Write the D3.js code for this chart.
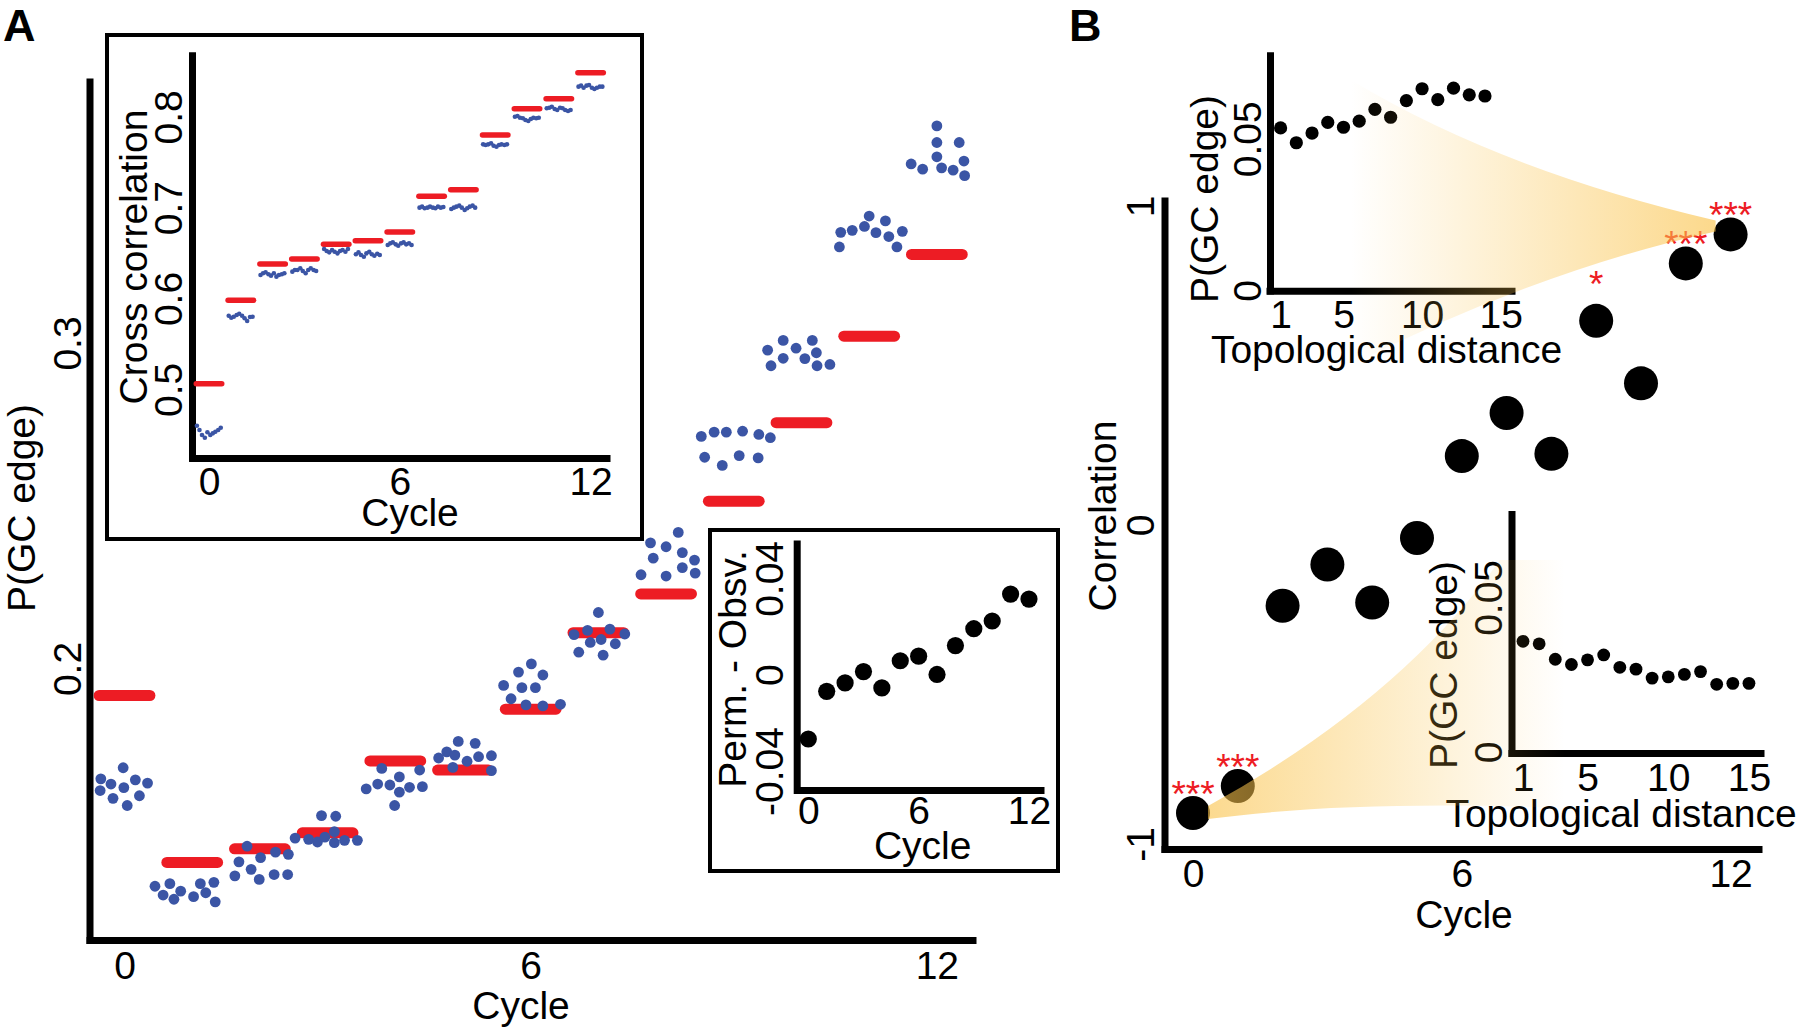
<!DOCTYPE html>
<html><head><meta charset="utf-8">
<script src="https://cdn.jsdelivr.net/npm/d3@7"></script>
<style>
html,body{margin:0;padding:0;background:#fff;}
</style></head><body>
<svg id="fig" width="1800" height="1030" xmlns="http://www.w3.org/2000/svg"></svg>
<script>
// ---------------- DATA ----------------
const cycles = [0,1,2,3,4,5,6,7,8,9,10,11,12];
const cycleTicks = [0,6,12];

// Panel A main: observed P(GC edge) (red) and permutations (blue)
const obsGC = [0.1917,0.1404,0.1446,0.1495,0.1716,0.1688,0.1875,0.2110,0.2229,0.2514,0.2755,0.3021,0.3272];
const permGC = [
  [0.1695,0.1661,0.1645,0.1658,0.1648,0.1625,0.1634,0.1609,0.1601,0.1579],
  [0.1331,0.1339,0.1304,0.1316,0.1291,0.1299,0.1339,0.1343,0.1311,0.1283],
  [0.1454,0.1406,0.1419,0.1436,0.1429,0.1383,0.1363,0.1352,0.1367,0.1367],
  [0.1548,0.1546,0.1479,0.1475,0.1467,0.1482,0.1499,0.1465,0.1472,0.1472],
  [0.1693,0.1688,0.1667,0.1630,0.1645,0.1642,0.1620,0.1635,0.1637,0.1579],
  [0.1776,0.1770,0.1744,0.1734,0.1725,0.1715,0.1729,0.1732,0.1696,0.1686],
  [0.2014,0.1989,0.1980,0.1948,0.1941,0.1941,0.1907,0.1888,0.1885,0.1890],
  [0.2172,0.2117,0.2121,0.2104,0.2106,0.2089,0.2080,0.2076,0.2050,0.2041],
  [0.2418,0.2386,0.2374,0.2356,0.2339,0.2333,0.2310,0.2293,0.2288,0.2284],
  [0.2713,0.2726,0.2726,0.2729,0.2719,0.2709,0.2649,0.2624,0.2654,0.2647],
  [0.3008,0.3008,0.2978,0.2984,0.2970,0.2953,0.2952,0.2930,0.2930,0.2934],
  [0.3390,0.3375,0.3340,0.3346,0.3358,0.3339,0.3343,0.3327,0.3295,0.3295],
  [0.3667,0.3616,0.3616,0.3550,0.3534,0.3572,0.3538,0.3531,0.3559,0.3514]
];
// horizontal jitter of each permutation dot (in cycles)
const permJitter = [
  [-0.02,-0.35,-0.20,0.16,0.34,-0.36,-0.01,0.22,-0.17,0.04],
  [-0.55,-0.33,-0.43,-0.17,-0.27,0.02,0.12,0.32,0.20,0.34],
  [-0.19,-0.31,0.01,0.23,0.42,-0.13,-0.37,-0.01,0.21,0.41],
  [-0.09,0.12,-0.48,-0.28,-0.15,-0.04,0.10,0.10,0.25,0.44],
  [-0.20,0.36,0.06,-0.43,-0.26,-0.08,0.06,0.21,0.40,-0.01],
  [-0.07,0.18,-0.24,-0.12,-0.36,0.06,0.23,0.42,-0.15,0.42],
  [0.01,-0.18,0.18,-0.40,-0.13,0.07,-0.29,-0.07,0.18,0.44],
  [0.00,-0.16,0.17,-0.36,0.39,0.04,-0.12,0.25,-0.29,0.07],
  [0.18,-0.23,0.00,0.24,-0.19,0.42,0.24,0.43,-0.37,0.00],
  [-0.48,-0.29,-0.11,0.13,0.37,0.54,-0.43,-0.17,0.08,0.36],
  [-0.27,0.16,-0.50,-0.08,0.22,-0.27,0.05,-0.45,0.23,0.42],
  [0.00,0.24,-0.42,-0.25,-0.07,0.10,0.49,0.29,-0.44,0.41],
  [0.00,0.00,0.33,-0.38,-0.21,0.00,0.07,0.24,0.40,0.41]
];
const gcTicks = [0.2,0.3];

// Inset: cross correlation
const obsXcorr = [0.5062,0.5980,0.6380,0.6435,0.6596,0.6636,0.6732,0.7125,0.7197,0.7800,0.8089,0.8199,0.8486];
const permXcorr = [
  [0.4599,0.4552,0.4497,0.4467,0.4527,0.4497,0.4515,0.4533,0.4552,0.4577],
  [0.5810,0.5788,0.5799,0.5818,0.5832,0.5810,0.5782,0.5752,0.5796,0.5799],
  [0.6258,0.6277,0.6288,0.6266,0.6251,0.6277,0.6240,0.6258,0.6266,0.6277],
  [0.6295,0.6313,0.6313,0.6332,0.6302,0.6277,0.6313,0.6332,0.6313,0.6302],
  [0.6545,0.6523,0.6508,0.6534,0.6515,0.6497,0.6523,0.6534,0.6515,0.6545],
  [0.6486,0.6508,0.6479,0.6460,0.6497,0.6515,0.6486,0.6471,0.6493,0.6479],
  [0.6589,0.6607,0.6618,0.6596,0.6581,0.6607,0.6618,0.6596,0.6607,0.6589],
  [0.7000,0.7011,0.6993,0.7000,0.7011,0.7000,0.6993,0.7011,0.7000,0.7007],
  [0.6985,0.7000,0.7011,0.7022,0.7000,0.6974,0.6993,0.7011,0.7022,0.7000],
  [0.7697,0.7690,0.7697,0.7708,0.7682,0.7671,0.7690,0.7697,0.7690,0.7697],
  [0.8001,0.8009,0.7990,0.7984,0.7965,0.7954,0.7976,0.7990,0.7984,0.7990],
  [0.8094,0.8100,0.8111,0.8086,0.8075,0.8100,0.8094,0.8075,0.8064,0.8075],
  [0.8332,0.8343,0.8320,0.8343,0.8350,0.8320,0.8306,0.8320,0.8332,0.8332]
];
const xcorrJitter = [-0.38,-0.30,-0.22,-0.13,-0.05,0.04,0.12,0.20,0.29,0.37];
const xcorrTicks = [0.5,0.6,0.7,0.8];

// Inset: Perm. - Obsv.
const permMinusObs = [-0.0267,-0.0069,-0.0034,0.0013,-0.0055,0.0058,0.0077,0.0001,0.0121,0.0191,0.0223,0.0335,0.0314];
const diffTicks = [-0.04,0,0.04];

// Panel B main: correlation per cycle
const corrGC = [-0.903,-0.818,-0.253,-0.124,-0.243,-0.041,0.216,0.351,0.223,0.640,0.444,0.820,0.911];
const corrTicks = [-1,0,1];
const starCycles = [0,1,9,11,12];
const starLabels = ["***","***","*","***","***"];

// Panel B insets: P(GC edge) vs topological distance
const topDist = [1,2,3,4,5,6,7,8,9,10,11,12,13,14];
const topPGC = [0.0536,0.0487,0.0519,0.0554,0.0538,0.0558,0.0597,0.0571,0.0626,0.0665,0.0629,0.0667,0.0645,0.0641];
const botDist = [1,2,3,4,5,6,7,8,9,10,11,12,13,14,15];
const botPGC = [0.0358,0.0350,0.0300,0.0283,0.0298,0.0314,0.0274,0.0268,0.0239,0.0243,0.0251,0.0260,0.0219,0.0222,0.0222];
const distTicks = [1,5,10,15];
const pgcTicks = [0,0.05];

// ---------------- DRAWING ----------------
const svg = d3.select("#fig");
const FONT = '"Liberation Sans", Arial, Helvetica, sans-serif';
const FS = 39;
const RED = "#ED1C24", BLUE = "#3B55A5", WEDGE = "#FAC34B";

function txt(s, x, y, o = {}) {
  const t = svg.append("text").text(s)
    .attr("font-family", FONT).attr("font-size", o.size || FS)
    .attr("text-anchor", o.anchor || "middle").attr("fill", o.fill || "#000");
  if (o.weight) t.attr("font-weight", o.weight);
  if (o.rot) t.attr("transform", `translate(${x},${y}) rotate(-90)`);
  else t.attr("x", x).attr("y", y);
  return t;
}
function bottomAxis(scale, ticks, y, off) {
  const ax = d3.axisBottom(scale).tickValues(ticks).tickSize(0).tickSizeOuter(0).tickFormat(d => String(d));
  const g = svg.append("g").attr("transform", `translate(0,${y})`).call(ax);
  g.attr("font-family", null).attr("font-size", null);
  g.select(".domain").attr("stroke", "#000").attr("stroke-width", 7);
  g.selectAll(".tick text").attr("y", off).attr("dy", 0)
    .attr("font-family", FONT).attr("font-size", FS).attr("fill", "#000");
  return g;
}
function leftAxis(scale, ticks, x, off) {
  const ax = d3.axisLeft(scale).tickValues(ticks).tickSize(0).tickSizeOuter(0).tickFormat(d => String(d));
  const g = svg.append("g").attr("transform", `translate(${x},0)`).call(ax);
  g.attr("font-family", null).attr("font-size", null).attr("text-anchor", null);
  g.select(".domain").attr("stroke", "#000").attr("stroke-width", 7);
  g.selectAll(".tick text").attr("x", 0).attr("dy", 0).attr("text-anchor", "middle")
    .attr("transform", `translate(${off},0) rotate(-90)`)
    .attr("font-family", FONT).attr("font-size", FS).attr("fill", "#000");
  return g;
}

// ===== Panel A main =====
const xA = d3.scaleLinear().domain([-0.569, 12.578]).range([86, 976]);
const yA = d3.scaleLinear().domain([0.11551, 0.38141]).range([943.5, 78]);
bottomAxis(xA, cycleTicks, 940, 39);
leftAxis(yA, gcTicks, 89.5, -9);
txt("P(GC edge)", 35, 508, {rot: true});
txt("Cycle", 521, 1019);
txt("A", 3, 41, {anchor: "start", weight: "bold", size: 45});

svg.append("g").selectAll("line").data(cycles).join("line")
  .attr("x1", c => xA(c - 0.375)).attr("x2", c => xA(c + 0.375))
  .attr("y1", c => yA(obsGC[c])).attr("y2", c => yA(obsGC[c]))
  .attr("stroke", RED).attr("stroke-width", 11).attr("stroke-linecap", "round");
const permPts = cycles.flatMap(c => permGC[c].map((v, i) => ({c, v, j: permJitter[c][i]})));
svg.append("g").selectAll("circle").data(permPts).join("circle")
  .attr("cx", d => xA(d.c + d.j)).attr("cy", d => yA(d.v)).attr("r", 5.4).attr("fill", BLUE);

// ===== Inset A1: cross correlation =====
svg.append("rect").attr("x", 107).attr("y", 35).attr("width", 535).attr("height", 504)
  .attr("fill", "#fff").attr("stroke", "#000").attr("stroke-width", 4);
const xI = d3.scaleLinear().domain([-0.6415, 12.61]).range([188.6, 610]);
const yI = d3.scaleLinear().domain([0.42106, 0.87157]).range([461, 51.8]);
bottomAxis(xI, cycleTicks, 458, 36.5);
leftAxis(yI, xcorrTicks, 192, -10);
txt("Cross correlation", 147, 257, {rot: true});
txt("Cycle", 410, 526);
svg.append("g").selectAll("line").data(cycles).join("line")
  .attr("x1", c => xI(c - 0.4)).attr("x2", c => xI(c + 0.4))
  .attr("y1", c => yI(obsXcorr[c])).attr("y2", c => yI(obsXcorr[c]))
  .attr("stroke", RED).attr("stroke-width", 5.5).attr("stroke-linecap", "round");
const xcPts = cycles.flatMap(c => permXcorr[c].map((v, i) => ({c, v, j: xcorrJitter[i]})));
svg.append("g").selectAll("circle").data(xcPts).join("circle")
  .attr("cx", d => xI(d.c + d.j)).attr("cy", d => yI(d.v)).attr("r", 2.3).attr("fill", BLUE);

// ===== Inset A2: Perm. - Obsv. =====
svg.append("rect").attr("x", 710).attr("y", 530).attr("width", 348).attr("height", 341)
  .attr("fill", "#fff").attr("stroke", "#000").attr("stroke-width", 4);
const xP = d3.scaleLinear().domain([-0.778, 12.817]).range([794, 1044]);
const yP = d3.scaleLinear().domain([-0.049346, 0.05595]).range([793.5, 540]);
bottomAxis(xP, cycleTicks, 790, 34.3);
leftAxis(yP, diffTicks, 796.7, -13.7);
txt("Perm. - Obsv.", 746, 669, {rot: true});
txt("Cycle", 922.7, 859);
svg.append("g").selectAll("circle").data(cycles).join("circle")
  .attr("cx", c => xP(c)).attr("cy", c => yP(permMinusObs[c])).attr("r", 8.6).attr("fill", "#000");

// ===== Panel B main =====
const xB = d3.scaleLinear().domain([-0.714, 12.701]).range([1161, 1762]);
const yB = d3.scaleLinear().domain([-1.02665, 1.02821]).range([852.5, 197]);
bottomAxis(xB, cycleTicks, 849, 38);
leftAxis(yB, corrTicks, 1164.5, -11);
txt("Correlation", 1116, 516, {rot: true});
txt("Cycle", 1464, 928);
txt("B", 1069, 41, {anchor: "start", weight: "bold", size: 45});

// ===== Panel B top inset =====
const xT = d3.scaleLinear().domain([0.0712, 15.911]).range([1266, 1515]);
const yT = d3.scaleLinear().domain([-0.001154, 0.078708]).range([294, 51.7]);
bottomAxis(xT, distTicks, 290.7, 37.6);
leftAxis(yT, pgcTicks, 1270, -9);
txt("P(GC edge)", 1218, 199, {rot: true});
txt("Topological distance", 1386.5, 363);
svg.append("g").selectAll("circle").data(topDist).join("circle")
  .attr("cx", (d) => xT(d)).attr("cy", (d, i) => yT(topPGC[i])).attr("r", 6.6).attr("fill", "#000");

// ===== Panel B bottom inset =====
const xL = d3.scaleLinear().domain([0.0706, 15.932]).range([1508, 1764]);
const yL = d3.scaleLinear().domain([-0.001455, 0.078137]).range([756.5, 510.4]);
bottomAxis(xL, distTicks, 753, 37.7);
leftAxis(yL, pgcTicks, 1511.5, -9.5);
txt("P(GC edge)", 1457, 665, {rot: true});
txt("Topological distance", 1621, 827);
svg.append("g").selectAll("circle").data(botDist).join("circle")
  .attr("cx", (d) => xL(d)).attr("cy", (d, i) => yL(botPGC[i])).attr("r", 6.4).attr("fill", "#000");

// main B dots and stars
svg.append("g").selectAll("circle").data(cycles).join("circle")
  .attr("cx", c => xB(c)).attr("cy", c => yB(corrGC[c])).attr("r", 17).attr("fill", "#000");
svg.append("g").selectAll("text").data(starCycles).join("text")
  .text((c, i) => starLabels[i])
  .attr("x", c => xB(c))
  .attr("y", (c, i) => yB(corrGC[c]) - (starLabels[i].length === 1 ? 24 : 6))
  .attr("text-anchor", "middle").attr("font-family", FONT).attr("font-size", 37).attr("fill", RED);

// ===== magnifying wedges (gradient overlays) =====
const defs = svg.append("defs");
const g1 = defs.append("linearGradient").attr("id", "wedgeTop").attr("gradientUnits", "userSpaceOnUse")
  .attr("x1", xB(3.527)).attr("x2", xB(12) - 15).attr("y1", 0).attr("y2", 0);
g1.append("stop").attr("offset", 0).attr("stop-color", WEDGE).attr("stop-opacity", 0);
g1.append("stop").attr("offset", 1).attr("stop-color", WEDGE).attr("stop-opacity", 0.64);
const g2 = defs.append("linearGradient").attr("id", "wedgeBot").attr("gradientUnits", "userSpaceOnUse")
  .attr("x1", xB(0) + 15).attr("x2", xB(8.3)).attr("y1", 0).attr("y2", 0);
g2.append("stop").attr("offset", 0).attr("stop-color", WEDGE).attr("stop-opacity", 0.62);
g2.append("stop").attr("offset", 1).attr("stop-color", WEDGE).attr("stop-opacity", 0);

// wedge toward cycle 12
{
  const tx = xB(12) - 15, ty = yB(corrGC[12]);
  const p = d3.path();
  p.moveTo(xB(3.527), yB(1.395));
  p.quadraticCurveTo(xB(6.853), yB(1.113), tx, ty - 14);
  p.lineTo(tx, ty - 3);
  p.quadraticCurveTo(xB(7.746), yB(0.799), xB(3.527), yB(0.5016));
  p.closePath();
  svg.append("path").attr("d", p.toString()).attr("fill", "url(#wedgeTop)");
}
// wedge toward cycle 0
{
  const tx = xB(0) + 15, ty = yB(corrGC[0]);
  const p = d3.path();
  p.moveTo(tx, ty - 7);
  p.quadraticCurveTo(xB(4.62), yB(-0.5486), xB(6.853), yB(-0.1097));
  p.lineTo(xB(8.304), yB(-0.1097));
  p.lineTo(xB(8.304), yB(-0.887));
  p.quadraticCurveTo(xB(3.504), yB(-0.862), tx, ty + 6);
  p.closePath();
  svg.append("path").attr("d", p.toString()).attr("fill", "url(#wedgeBot)");
}
</script>
</body></html>
